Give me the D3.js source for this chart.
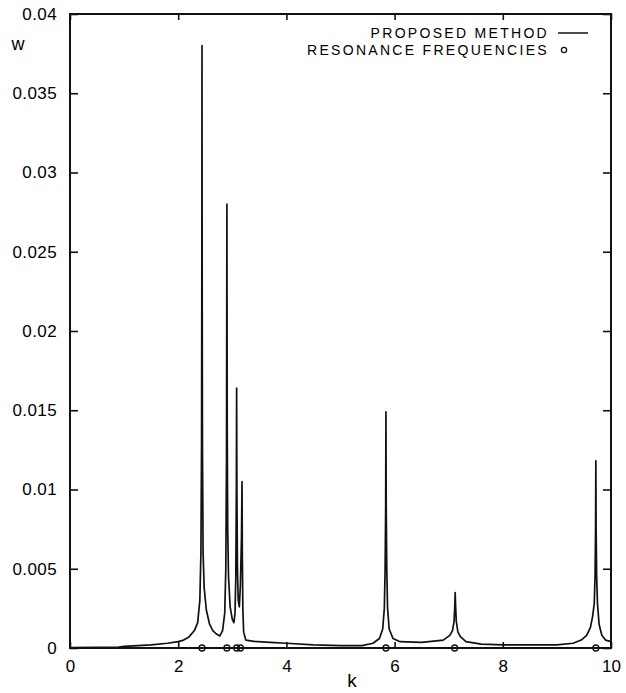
<!DOCTYPE html>
<html>
<head>
<meta charset="utf-8">
<script src="https://cdn.jsdelivr.net/npm/d3@7"></script>
<style>
  body { margin: 0; background: #fff; }
  text { font-family: "Liberation Sans", Arial, sans-serif; fill: #000; }
</style>
</head>
<body>
<svg id="chart"></svg>
<script>
// wave number k and response w
const kValues = [0, 0.5, 0.9, 1.0, 1.5, 1.8, 2.0, 2.1, 2.2, 2.3, 2.36, 2.40, 2.42, 2.432, 2.437, 2.44, 2.443, 2.448, 2.46, 2.48, 2.52, 2.58, 2.64, 2.70, 2.77, 2.82, 2.86, 2.88, 2.893, 2.90, 2.906, 2.915, 2.93, 2.96, 3.00, 3.03, 3.05, 3.065, 3.075, 3.08, 3.085, 3.095, 3.11, 3.13, 3.15, 3.17, 3.18, 3.185, 3.195, 3.21, 3.25, 3.4, 3.7, 4.0, 4.5, 5.0, 5.4, 5.6, 5.72, 5.78, 5.81, 5.825, 5.835, 5.84, 5.845, 5.855, 5.87, 5.90, 5.97, 6.1, 6.5, 6.9, 7.02, 7.07, 7.10, 7.113, 7.12, 7.127, 7.14, 7.17, 7.22, 7.32, 7.6, 8.0, 8.5, 9.0, 9.3, 9.45, 9.55, 9.62, 9.66, 9.69, 9.705, 9.715, 9.72, 9.725, 9.735, 9.75, 9.78, 9.83, 9.9, 10.0];
const wValues = [0.00003, 0.00004, 0.00006, 0.0001, 0.0002, 0.0003, 0.0004, 0.0005, 0.0007, 0.0011, 0.0016, 0.003, 0.006, 0.013, 0.024, 0.038, 0.024, 0.013, 0.006, 0.0038, 0.0024, 0.0015, 0.0011, 0.0009, 0.00076, 0.0011, 0.0022, 0.005, 0.012, 0.028, 0.014, 0.0075, 0.0045, 0.0026, 0.0018, 0.0016, 0.0022, 0.0045, 0.01, 0.0164, 0.01, 0.005, 0.003, 0.0026, 0.004, 0.007, 0.0105, 0.006, 0.0025, 0.001, 0.0005, 0.00042, 0.00036, 0.0003, 0.0002, 0.00015, 0.00015, 0.0003, 0.0006, 0.0012, 0.0025, 0.005, 0.009, 0.0149, 0.009, 0.005, 0.0025, 0.0012, 0.0006, 0.0004, 0.00035, 0.0005, 0.0008, 0.0011, 0.0017, 0.0027, 0.0035, 0.0027, 0.0017, 0.001, 0.0007, 0.0004, 0.00025, 0.0002, 0.0002, 0.0002, 0.0003, 0.0005, 0.0008, 0.0013, 0.002, 0.0028, 0.0045, 0.0075, 0.0118, 0.0075, 0.0045, 0.0028, 0.0015, 0.0008, 0.0005, 0.0004];

// resonance frequencies marked on the k axis
const resonances = [2.44, 2.90, 3.08, 3.15, 5.84, 7.11, 9.72];

const xTicks = [0, 2, 4, 6, 8, 10];
const xTickLabels = ["0", "2", "4", "6", "8", "10"];
const yTicks = [0, 0.005, 0.01, 0.015, 0.02, 0.025, 0.03, 0.035, 0.04];
const yTickLabels = ["0", "0.005", "0.01", "0.015", "0.02", "0.025", "0.03", "0.035", "0.04"];

const W = 626, H = 693;
const plot = {left: 70, right: 611, top: 14, bottom: 648};

const svg = d3.select("#chart")
    .attr("width", W)
    .attr("height", H);

const x = d3.scaleLinear().domain([0, 10]).range([plot.left, plot.right]);
const y = d3.scaleLinear().domain([0, 0.04]).range([plot.bottom, plot.top]);

// axes, ticks pointing inward like the original
const fmtX = (d, i) => xTickLabels[i];
const fmtY = (d, i) => yTickLabels[i];

const bottomAxis = svg.append("g")
    .attr("transform", `translate(0,${plot.bottom})`)
    .call(d3.axisBottom(x).tickValues(xTicks).tickFormat(fmtX).tickSizeInner(-6).tickSizeOuter(0).tickPadding(12));
bottomAxis.selectAll("text").style("font-size", "17px");

const leftAxis = svg.append("g")
    .attr("transform", `translate(${plot.left},0)`)
    .call(d3.axisLeft(y).tickValues(yTicks).tickFormat(fmtY).tickSizeInner(-8).tickSizeOuter(0).tickPadding(13));
leftAxis.selectAll("text").style("font-size", "17px").style("letter-spacing", "0.4px");

svg.append("g")
    .attr("transform", `translate(0,${plot.top})`)
    .call(d3.axisTop(x).tickValues(xTicks).tickFormat("").tickSizeInner(-6).tickSizeOuter(0));

svg.append("g")
    .attr("transform", `translate(${plot.right},0)`)
    .call(d3.axisRight(y).tickValues(yTicks).tickFormat("").tickSizeInner(-8).tickSizeOuter(0));

svg.selectAll(".domain").remove();
svg.selectAll(".tick line").attr("stroke", "#111").attr("stroke-width", 1.6);

// frame
svg.append("rect")
    .attr("x", plot.left)
    .attr("y", plot.top)
    .attr("width", plot.right - plot.left)
    .attr("height", plot.bottom - plot.top)
    .attr("fill", "none")
    .attr("stroke", "#111")
    .attr("stroke-width", 2);

// curve
const pts = kValues.map((k, i) => [k, wValues[i]]);
const line = d3.line()
    .x(d => x(d[0]))
    .y(d => y(d[1]));

svg.append("path")
    .datum(pts)
    .attr("d", line)
    .attr("fill", "none")
    .attr("stroke", "#111")
    .attr("stroke-width", 1.7)
    .attr("stroke-linejoin", "round");

// resonance markers
svg.append("g")
  .selectAll("circle")
  .data(resonances)
  .join("circle")
    .attr("cx", d => x(d))
    .attr("cy", y(0))
    .attr("r", 3)
    .attr("fill", "none")
    .attr("stroke", "#111")
    .attr("stroke-width", 1.3);

// legend
const legend = svg.append("g");
legend.append("text")
    .attr("x", 549).attr("y", 38)
    .attr("text-anchor", "end")
    .style("font-size", "14px")
    .style("letter-spacing", "2.3px")
    .text("PROPOSED METHOD");
legend.append("line")
    .attr("x1", 558).attr("x2", 588)
    .attr("y1", 33).attr("y2", 33)
    .attr("stroke", "#111").attr("stroke-width", 1.5);
legend.append("text")
    .attr("x", 549).attr("y", 55)
    .attr("text-anchor", "end")
    .style("font-size", "14px")
    .style("letter-spacing", "2.3px")
    .text("RESONANCE FREQUENCIES");
legend.append("circle")
    .attr("cx", 564).attr("cy", 50).attr("r", 2.6)
    .attr("fill", "none").attr("stroke", "#111").attr("stroke-width", 1.3);

// axis names
svg.append("text")
    .attr("x", 18).attr("y", 50)
    .attr("text-anchor", "middle")
    .style("font-size", "18px")
    .text("w");
svg.append("text")
    .attr("x", 352).attr("y", 687)
    .attr("text-anchor", "middle")
    .style("font-size", "19px")
    .text("k");
</script>
</body>
</html>
